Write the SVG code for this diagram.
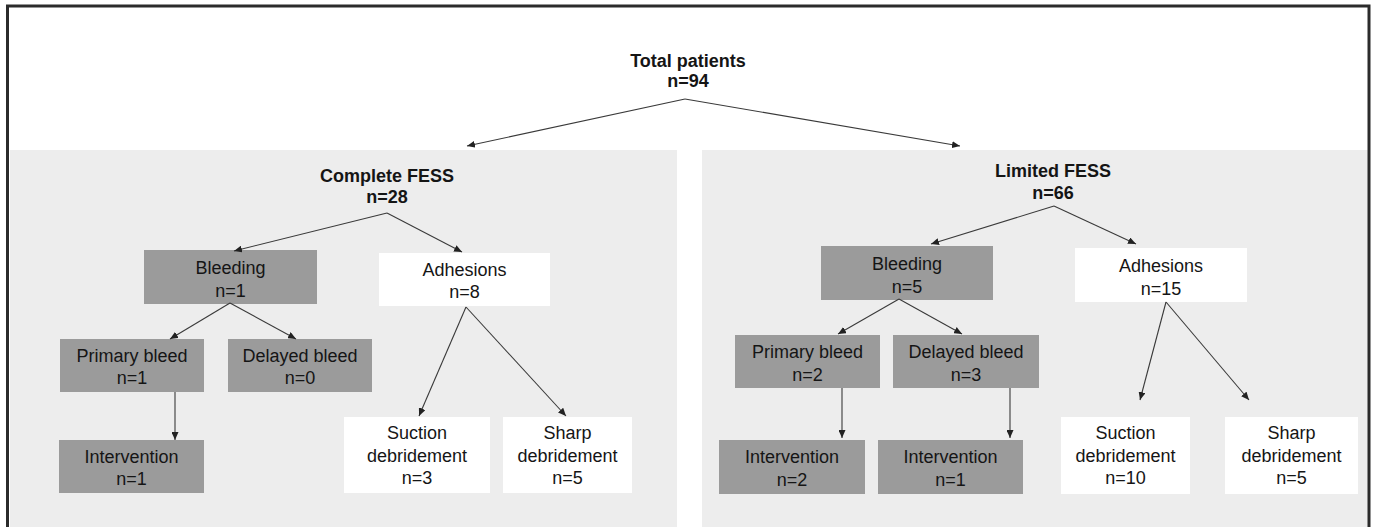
<svg xmlns="http://www.w3.org/2000/svg" width="1376" height="527" viewBox="0 0 1376 527">
<style>
.bg{fill:#ffffff}
.frame{fill:none;stroke:#2b2b2b;stroke-width:3}
.panel{fill:#ededed}
.dark{fill:#9b9b9b}
.light{fill:#ffffff}
.t{font-family:"Liberation Sans",Arial,Helvetica,sans-serif;font-size:18px;fill:#151515;text-anchor:middle}
.b{font-weight:bold}
.c{fill:none;stroke:#3a3a3a;stroke-width:1.1;marker-end:url(#ah)}
</style>
<defs>
<marker id="ah" markerUnits="userSpaceOnUse" markerWidth="8" markerHeight="7" refX="8" refY="3.5" orient="auto">
<path d="M0,0 L8,3.5 L0,7 z" fill="#222"/>
</marker>
</defs>
<rect class="bg" x="0" y="0" width="1376" height="527"/>
<rect class="panel" x="10" y="150" width="667" height="380"/>
<rect class="panel" x="702" y="150" width="666" height="380"/>
<rect class="frame" x="7.5" y="6" width="1361.5" height="530"/>

<g id="total">
<text class="t b" x="688" y="67">Total patients</text>
<text class="t b" x="688" y="87">n=94</text>
</g>

<g id="complete">
<text class="t b" x="387" y="182">Complete FESS</text>
<text class="t b" x="387" y="203">n=28</text>
</g>
<g id="c-bleeding">
<rect class="dark" x="144" y="250" width="173" height="54"/>
<text class="t" x="230.5" y="274">Bleeding</text>
<text class="t" x="230.5" y="297">n=1</text>
</g>
<g id="c-adhesions">
<rect class="light" x="379" y="253" width="171" height="53"/>
<text class="t" x="464.5" y="276">Adhesions</text>
<text class="t" x="464.5" y="298">n=8</text>
</g>
<g id="c-primary">
<rect class="dark" x="60" y="339" width="144" height="53"/>
<text class="t" x="132" y="362">Primary bleed</text>
<text class="t" x="132" y="384">n=1</text>
</g>
<g id="c-delayed">
<rect class="dark" x="228" y="339" width="144" height="53"/>
<text class="t" x="300" y="362">Delayed bleed</text>
<text class="t" x="300" y="384">n=0</text>
</g>
<g id="c-intervention">
<rect class="dark" x="59" y="440" width="145" height="53"/>
<text class="t" x="131.5" y="463">Intervention</text>
<text class="t" x="131.5" y="485">n=1</text>
</g>
<g id="c-suction">
<rect class="light" x="344" y="417" width="146" height="76"/>
<text class="t" x="417" y="439">Suction</text>
<text class="t" x="417" y="462">debridement</text>
<text class="t" x="417" y="484">n=3</text>
</g>
<g id="c-sharp">
<rect class="light" x="503" y="417" width="129" height="76"/>
<text class="t" x="567.5" y="439">Sharp</text>
<text class="t" x="567.5" y="462">debridement</text>
<text class="t" x="567.5" y="484">n=5</text>
</g>

<g id="limited">
<text class="t b" x="1053" y="177">Limited FESS</text>
<text class="t b" x="1053" y="199">n=66</text>
</g>
<g id="l-bleeding">
<rect class="dark" x="821" y="246" width="172" height="54"/>
<text class="t" x="907" y="270">Bleeding</text>
<text class="t" x="907" y="293">n=5</text>
</g>
<g id="l-adhesions">
<rect class="light" x="1075" y="248" width="172" height="54"/>
<text class="t" x="1161" y="272">Adhesions</text>
<text class="t" x="1161" y="295">n=15</text>
</g>
<g id="l-primary">
<rect class="dark" x="735" y="335" width="145" height="53"/>
<text class="t" x="807.5" y="358">Primary bleed</text>
<text class="t" x="807.5" y="381">n=2</text>
</g>
<g id="l-delayed">
<rect class="dark" x="893" y="335" width="146" height="53"/>
<text class="t" x="966" y="358">Delayed bleed</text>
<text class="t" x="966" y="381">n=3</text>
</g>
<g id="l-intervention-1">
<rect class="dark" x="719" y="440" width="146" height="54"/>
<text class="t" x="792" y="463">Intervention</text>
<text class="t" x="792" y="486">n=2</text>
</g>
<g id="l-intervention-2">
<rect class="dark" x="878" y="440" width="145" height="54"/>
<text class="t" x="950.5" y="463">Intervention</text>
<text class="t" x="950.5" y="486">n=1</text>
</g>
<g id="l-suction">
<rect class="light" x="1061" y="417" width="129" height="77"/>
<text class="t" x="1125.5" y="439">Suction</text>
<text class="t" x="1125.5" y="462">debridement</text>
<text class="t" x="1125.5" y="484">n=10</text>
</g>
<g id="l-sharp">
<rect class="light" x="1225" y="417" width="133" height="77"/>
<text class="t" x="1291.5" y="439">Sharp</text>
<text class="t" x="1291.5" y="462">debridement</text>
<text class="t" x="1291.5" y="484">n=5</text>
</g>

<g id="connectors">
<line class="c" x1="685" y1="99" x2="467" y2="146"/>
<line class="c" x1="685" y1="99" x2="960" y2="146"/>
<line class="c" x1="387" y1="213" x2="234" y2="251"/>
<line class="c" x1="387" y1="213" x2="462" y2="252"/>
<line class="c" x1="230" y1="303" x2="170" y2="339"/>
<line class="c" x1="230" y1="303" x2="296" y2="339"/>
<line class="c" x1="175" y1="392" x2="175" y2="440"/>
<line class="c" x1="466" y1="307" x2="419" y2="416"/>
<line class="c" x1="466" y1="307" x2="566" y2="416"/>
<line class="c" x1="1054" y1="206" x2="931" y2="244"/>
<line class="c" x1="1054" y1="206" x2="1136" y2="244"/>
<line class="c" x1="899" y1="299" x2="838" y2="334"/>
<line class="c" x1="899" y1="299" x2="962" y2="334"/>
<line class="c" x1="842" y1="388" x2="842" y2="438"/>
<line class="c" x1="1010" y1="388" x2="1010" y2="438"/>
<line class="c" x1="1166" y1="302" x2="1140" y2="400"/>
<line class="c" x1="1166" y1="302" x2="1249" y2="400"/>
</g>
</svg>
